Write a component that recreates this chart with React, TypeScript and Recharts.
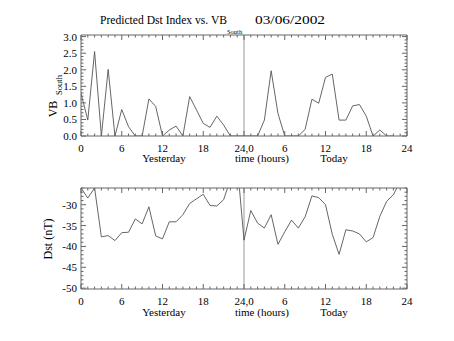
import { Line, LineChart, ReferenceLine, XAxis, YAxis } from "recharts";

// hourly values, hour 0 = start of yesterday, hour 24 = start of today
const vbSouth = [
  1.29, 0.48, 2.55, 0, 2.01, 0, 0.8, 0.28, 0, 0,
  1.12, 0.89, 0, 0.18, 0.3, 0, 1.19, 0.79, 0.38, 0.26,
  0.6, 0.33, 0, 0, 0, 0, 0, 0.48, 1.97, 0.68,
  0, 0, 0, 0.2, 1.11, 0.99, 1.77, 1.87, 0.48, 0.48,
  0.91, 0.95, 0.6, 0, 0.18, 0, 0,
];

const dst = [
  -26, -28.4, -26, -37.7, -37.4, -38.6, -36.7, -36.6, -33.4, -34.6,
  -30.5, -37.5, -38.2, -34.1, -34.1, -32.4, -29.7, -28.6, -27.5, -30.2,
  -30.3, -28.8, -24, -20, -38.5, -31.4, -34.4, -35.6, -32.4, -39.5,
  -36.5, -33.7, -35.6, -32.9, -27.9, -28.3, -30.0, -37.1, -41.9, -36.0,
  -36.3, -37.0, -38.9, -37.9, -32.8, -29.2, -27.6, -24.5,
];

const xMajor = [0, 6, 12, 18, 24, 30, 36, 42, 48];
const xMajorLabels = ["0", "6", "12", "18", "24,0", "6", "12", "18", "24"];
const xMinor = Array.from({ length: 49 }, (_, i) => i);

const vbMajor = [0, 0.5, 1, 1.5, 2, 2.5, 3];
const vbTicks = Array.from({ length: 31 }, (_, i) => i / 10);
const dstMajor = [-50, -45, -40, -35, -30];
const dstTicks = Array.from({ length: 25 }, (_, i) => -50 + i);

const topData = vbSouth.map((v, i) => ({ hour: i, v }));
const bottomData = dst.map((v, i) => ({ hour: i, v }));

const FONT = "Liberation Serif";
const INK = "#666";
const LINE = "#555";

const xTick = (side: "top" | "bottom", labels: boolean) => (props: any) => {
  const { x, y, payload } = props;
  const idx = xMajor.indexOf(payload.value);
  const major = idx >= 0;
  const len = major ? 5 : 2.5;
  const dir = side === "bottom" ? -1 : 1;
  return (
    <g>
      <line x1={x} x2={x} y1={y} y2={y + dir * len} stroke={INK} strokeWidth={1} />
      {labels && major && (
        <text x={x} y={y + 15.5} textAnchor="middle" fontFamily={FONT} fontSize={11} fill="#000">
          {xMajorLabels[idx]}
        </text>
      )}
    </g>
  );
};

const yTick = (side: "left" | "right", majors: number[], fmt: (v: number) => string) => (props: any) => {
  const { x, y, payload } = props;
  const major = majors.some((m) => Math.abs(m - payload.value) < 1e-6);
  const len = major ? 5 : 2.5;
  const dir = side === "left" ? 1 : -1;
  return (
    <g>
      <line x1={x} x2={x + dir * len} y1={y} y2={y} stroke={INK} strokeWidth={1} />
      {side === "left" && major && (
        <text x={x - 4} y={y + 4} textAnchor="end" fontFamily={FONT} fontSize={11} fill="#000">
          {fmt(payload.value)}
        </text>
      )}
    </g>
  );
};

interface PanelProps {
  data: { hour: number; v: number }[];
  domain: [number, number];
  ticks: number[];
  majors: number[];
  fmt: (v: number) => string;
  height: number;
  margin: { top: number; right: number; bottom: number; left: number };
}

function Panel({ data, domain, ticks, majors, fmt, height, margin }: PanelProps) {
  return (
    <LineChart width={454} height={height} data={data} margin={margin}>
      <XAxis
        xAxisId="b" dataKey="hour" type="number" domain={[0, 48]} ticks={xMinor} interval={0}
        allowDataOverflow tickSize={0} tickMargin={0} height={30}
        axisLine={{ stroke: INK }} tickLine={false} tick={xTick("bottom", true)}
      />
      <XAxis
        xAxisId="t" orientation="top" dataKey="hour" type="number" domain={[0, 48]} ticks={xMinor} interval={0}
        allowDataOverflow tickSize={0} tickMargin={0} height={1}
        axisLine={{ stroke: INK }} tickLine={false} tick={xTick("top", false)}
      />
      <YAxis
        yAxisId="l" type="number" domain={domain} ticks={ticks} interval={0} allowDataOverflow
        tickSize={0} tickMargin={0} width={81}
        axisLine={{ stroke: INK }} tickLine={false} tick={yTick("left", majors, fmt)}
      />
      <YAxis
        yAxisId="r" orientation="right" type="number" domain={domain} ticks={ticks} interval={0} allowDataOverflow
        tickSize={0} tickMargin={0} width={1}
        axisLine={{ stroke: INK }} tickLine={false} tick={yTick("right", majors, fmt)}
      />
      <ReferenceLine xAxisId="b" yAxisId="l" x={24} stroke="#999" strokeWidth={1} />
      <Line
        xAxisId="b" yAxisId="l" type="linear" dataKey="v" stroke={LINE} strokeWidth={0.9}
        dot={false} isAnimationActive={false}
      />
    </LineChart>
  );
}

export default function App() {
  return (
    <div style={{ position: "absolute", left: 0, top: 0, width: 454, height: 341, background: "#fff" }}>
      <div style={{ position: "absolute", left: 0, top: 0 }}>
        <Panel
          data={topData} domain={[0, 3.05]} ticks={vbTicks} majors={vbMajor}
          fmt={(v) => v.toFixed(1)} height={170}
          margin={{ top: 34, right: 46, bottom: 4, left: 0 }}
        />
      </div>
      <div style={{ position: "absolute", left: 0, top: 170 }}>
        <Panel
          data={bottomData} domain={[-50.2, -26]} ticks={dstTicks} majors={dstMajor}
          fmt={(v) => String(v)} height={171}
          margin={{ top: 17, right: 46, bottom: 22, left: 0 }}
        />
      </div>
      <svg width={454} height={341} style={{ position: "absolute", left: 0, top: 0, pointerEvents: "none" }}>
        <g fontFamily={FONT} fill="#000">
          <text x={100} y={24} fontSize={12.5} textLength={127} lengthAdjust="spacingAndGlyphs">
            Predicted Dst Index vs. VB
          </text>
          <text x={227} y={34} fontSize={6.5}>South</text>
          <text x={255} y={24} fontSize={12.5} textLength={70} lengthAdjust="spacingAndGlyphs">
            03/06/2002
          </text>

          <text transform="translate(57,109) rotate(-90)" textAnchor="middle" fontSize={12}>VB</text>
          <text transform="translate(61.5,85) rotate(-90)" textAnchor="middle" fontSize={8.5}>South</text>
          <text transform="translate(52,239) rotate(-90)" textAnchor="middle" fontSize={12}>Dst (nT)</text>

          <text x={164} y={162} textAnchor="middle" fontSize={11}>Yesterday</text>
          <text x={262} y={162} textAnchor="middle" fontSize={11}>time (hours)</text>
          <text x={334} y={162} textAnchor="middle" fontSize={11}>Today</text>
          <text x={164} y={316} textAnchor="middle" fontSize={11}>Yesterday</text>
          <text x={262} y={316} textAnchor="middle" fontSize={11}>time (hours)</text>
          <text x={334} y={316} textAnchor="middle" fontSize={11}>Today</text>
        </g>
      </svg>
    </div>
  );
}
